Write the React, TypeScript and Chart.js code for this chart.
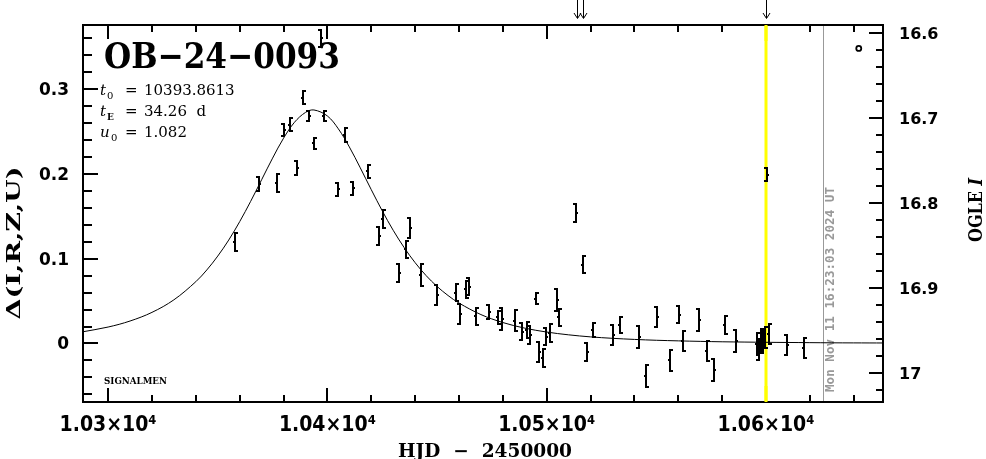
import React, { useEffect, useRef } from "react";
import { Chart, registerables } from "chart.js";

Chart.register(...registerables);

// ---------- data ----------
const titleText = "OB\u221224\u22120093";
const paramLines = [
  { sym: "t", sub: "0", value: "10393.8613" },
  { sym: "t", sub: "E", value: "34.26  d" },
  { sym: "u", sub: "0", value: "1.082" },
];
const surveyNote = "SIGNALMEN";
const dateStamp = "Mon Nov 11 16:23:03 2024 UT";

// observations: HJD-2450000, Δ mag, error
const obsT = [
  10357.9, 10368.8, 10377.0, 10380.2, 10383.0, 10386.0, 10389.0, 10391.7, 10394.0, 10397.1,
  10398.6, 10405.0, 10408.0, 10411.8, 10418.7, 10423.7, 10425.5, 10432.8, 10435.8, 10437.7,
  10442.7, 10449.8, 10458.6, 10460.5, 10463.2, 10464.6, 10467.8, 10473.7, 10477.7, 10479.6,
  10485.7, 10488.6, 10491.2, 10492.4, 10495.0, 10496.6, 10498.5, 10499.7, 10501.5, 10504.6,
  10505.8, 10513.4, 10516.4, 10518.5, 10521.3, 10530.4, 10533.4, 10542.2, 10545.3, 10550.4,
  10556.2, 10560.2, 10562.3, 10569.3, 10573.2, 10576.3, 10581.3, 10586.2, 10595.9, 10596.8,
  10597.7, 10598.6, 10599.5, 10600.3, 10601.2, 10609.4, 10617.3,
];
const obsDelta = [
  0.120, 0.188, 0.189, 0.252, 0.258, 0.207, 0.290, 0.268, 0.236, 0.360,
  0.268, 0.182, 0.246, 0.183, 0.203, 0.127, 0.147, 0.083, 0.111, 0.136,
  0.081, 0.057, 0.060, 0.035, 0.064, 0.067, 0.032, 0.037, 0.031, 0.029,
  0.027, 0.014, 0.016, 0.010, 0.053, -0.010, -0.017, 0.008, 0.012, 0.051,
  0.031, 0.154, 0.093, -0.010, 0.016, 0.010, 0.022, 0.008, -0.038, 0.031,
  -0.020, 0.034, 0.003, 0.028, -0.009, -0.031, 0.022, 0.003, -0.001, -0.007,
  0.002, 0.004, 0.007, 0.199, 0.011, -0.002, -0.005,
];
const obsErr = [
  0.012, 0.009, 0.012, 0.008, 0.009, 0.009, 0.009, 0.007, 0.008, 0.011,
  0.007, 0.009, 0.009, 0.009, 0.009, 0.012, 0.012, 0.012, 0.011, 0.013,
  0.014, 0.013, 0.011, 0.013, 0.011, 0.011, 0.011, 0.009, 0.009, 0.014,
  0.014, 0.011, 0.011, 0.012, 0.008, 0.013, 0.012, 0.011, 0.012, 0.014,
  0.011, 0.012, 0.011, 0.012, 0.009, 0.013, 0.011, 0.014, 0.014, 0.013,
  0.014, 0.011, 0.013, 0.014, 0.013, 0.014, 0.012, 0.014, 0.014, 0.014,
  0.014, 0.014, 0.014, 0.009, 0.013, 0.013, 0.013,
];

// model (PSPL) curve samples
const modelT = [
  10288, 10300, 10310, 10320, 10330, 10340, 10345, 10350, 10355, 10360,
  10365, 10370, 10375, 10380, 10385, 10390, 10393.86, 10400, 10405, 10410,
  10415, 10420, 10425, 10430, 10435, 10440, 10445, 10450, 10455, 10460,
  10470, 10480, 10490, 10500, 10510, 10520, 10530, 10540, 10550, 10560,
  10570, 10580, 10590, 10600, 10610, 10620, 10630, 10640, 10654,
];
const modelDelta = [
  0.0136, 0.0194, 0.0265, 0.0367, 0.0515, 0.0729, 0.0867, 0.1031, 0.1220, 0.1437,
  0.1676, 0.1931, 0.2186, 0.2421, 0.2609, 0.2725, 0.2754, 0.2683, 0.2531, 0.2318,
  0.2071, 0.1814, 0.1565, 0.1335, 0.1131, 0.0953, 0.0801, 0.0673, 0.0566, 0.0477,
  0.0341, 0.0247, 0.0181, 0.0135, 0.0102, 0.0078, 0.0061, 0.0048, 0.0038, 0.0031,
  0.0025, 0.0020, 0.0017, 0.0014, 0.0012, 0.0010, 0.0008, 0.0007, 0.0006,
];

const markerT = [10642.3];
const markerDelta = [0.348];

const arrowTimes = [10513.6, 10516.4, 10600.2];
const highlightT = 10600.0;
const nowT = 10626.0;

const xTickValues = [10300, 10400, 10500, 10600];
const xTickLabels = ["1.03\u00d710\u2074", "1.04\u00d710\u2074", "1.05\u00d710\u2074", "1.06\u00d710\u2074"];
const leftTickValues = [0, 0.1, 0.2, 0.3];
const leftTickLabels = ["0", "0.1", "0.2", "0.3"];
const rightTickValues = [16.6, 16.7, 16.8, 16.9, 17.0];
const rightTickLabels = ["16.6", "16.7", "16.8", "16.9", "17"];

const X_MIN = 10288.55, X_MAX = 10653.35;
const Y_MIN = -0.069, Y_MAX = 0.3756;
const M_MIN = 16.5906, M_MAX = 17.0341;

// ---------- helpers ----------
function fitText(ctx: any, text: string, x: number, y: number, width: number, align: string, rot = 0) {
  const m = ctx.measureText(text).width;
  const s = width / m;
  ctx.save();
  ctx.translate(x, y);
  if (rot) ctx.rotate(rot);
  ctx.scale(s, 1);
  ctx.textAlign = align;
  ctx.fillText(text, 0, 0);
  ctx.restore();
}

function drawHighlight(ctx: any, a: any, xs: any, top: number, bottom: number) {
  const hx = xs.getPixelForValue(highlightT);
  ctx.fillStyle = "#ffff00";
  ctx.fillRect(Math.round(hx) - 1.5, top, 3, bottom - top);
}

const overlay = {
  id: "overlay",
  beforeDatasetsDraw(chart: any) {
    const { ctx, chartArea: a, scales } = chart;
    const xs = scales.x;
    ctx.save();
    drawHighlight(ctx, a, xs, a.top, a.bottom);
    // current date line
    const gx = Math.round(xs.getPixelForValue(nowT)) + 0.5;
    ctx.strokeStyle = "#999999";
    ctx.lineWidth = 1;
    ctx.beginPath();
    ctx.moveTo(gx, a.top);
    ctx.lineTo(gx, a.bottom);
    ctx.stroke();
    ctx.fillStyle = "#999999";
    ctx.font = 'bold 12px "DejaVu Sans Mono"';
    ctx.textBaseline = "middle";
    fitText(ctx, dateStamp, gx + 7, 392, 205, "left", -Math.PI / 2);
    ctx.restore();
  },
  afterDatasetsDraw(chart: any) {
    const { ctx, chartArea: a, scales } = chart;
    const xs = scales.x, ys = scales.y, ms = scales.y2;
    ctx.save();
    // error bars
    ctx.save();
    ctx.beginPath();
    ctx.rect(a.left, a.top, a.right - a.left, a.bottom - a.top);
    ctx.clip();
    ctx.fillStyle = "#000";
    for (let i = 0; i < obsT.length; i++) {
      const px = Math.round(xs.getPixelForValue(obsT[i]));
      const pt = Math.round(ys.getPixelForValue(obsDelta[i] + obsErr[i]));
      const pb = Math.round(ys.getPixelForValue(obsDelta[i] - obsErr[i]));
      const pc = Math.round(ys.getPixelForValue(obsDelta[i]));
      ctx.fillRect(px - 1, pt, 2, pb - pt);
      const side = i % 2 === 0 ? 1 : -1;
      if (side > 0) {
        ctx.fillRect(px - 1, pt, 4, 2);
        ctx.fillRect(px - 1, pb - 2, 4, 2);
        ctx.fillRect(px - 2, pc - 1, 1, 2);
      } else {
        ctx.fillRect(px - 3, pt, 4, 2);
        ctx.fillRect(px - 3, pb - 2, 4, 2);
        ctx.fillRect(px + 1, pc - 1, 1, 2);
      }
    }
    ctx.restore();

    // frame
    ctx.strokeStyle = "#000";
    ctx.lineWidth = 2;
    ctx.strokeRect(a.left, a.top, a.right - a.left, a.bottom - a.top);

    // ticks
    ctx.fillStyle = "#000";
    for (let v = 10300; v <= X_MAX; v += 20) {
      const px = Math.round(xs.getPixelForValue(v));
      const major = v % 100 === 0;
      const len = major ? 14 : 7;
      ctx.fillRect(px - 1, a.bottom - len, 2, len);
      ctx.fillRect(px - 1, a.top, 2, len);
    }
    for (let k = -3; k <= 18; k++) {
      const v = k * 0.02;
      if (v < Y_MIN || v > Y_MAX) continue;
      const py = Math.round(ys.getPixelForValue(v));
      const len = k % 5 === 0 ? 15 : 9;
      ctx.fillRect(a.left, py - 1, len, 2);
    }
    for (let k = 0; k <= 21; k++) {
      const v = 16.6 + k * 0.02;
      if (v < M_MIN || v > M_MAX) continue;
      const py = Math.round(ms.getPixelForValue(v));
      const len = k % 5 === 0 ? 14 : 7;
      ctx.fillRect(a.right - len, py - 1, len, 2);
    }
    // highlight line covers the ticks it crosses
    drawHighlight(ctx, a, xs, a.top, a.top + 16);
    drawHighlight(ctx, a, xs, a.bottom - 16, a.bottom);

    // tick labels
    ctx.fillStyle = "#000";
    ctx.font = 'bold 17px "DejaVu Sans"';
    ctx.textBaseline = "middle";
    ctx.textAlign = "right";
    leftTickValues.forEach((v, i) => {
      ctx.fillText(leftTickLabels[i], 69, ys.getPixelForValue(v) + 1.5);
    });
    ctx.font = 'bold 16px "DejaVu Sans"';
    ctx.textAlign = "left";
    rightTickValues.forEach((v, i) => {
      ctx.fillText(rightTickLabels[i], 899, ms.getPixelForValue(v) + 1.5);
    });
    ctx.font = 'bold 21px "DejaVu Sans Condensed", "DejaVu Sans"';
    ctx.textBaseline = "alphabetic";
    xTickValues.forEach((v, i) => {
      fitText(ctx, xTickLabels[i], xs.getPixelForValue(v), 431, 97, "center");
    });

    // axis titles
    ctx.font = 'bold 18px "DejaVu Serif"';
    ctx.textBaseline = "alphabetic";
    fitText(ctx, "HJD  \u2212  2450000", 485, 457, 174, "center");
    ctx.textBaseline = "middle";
    fitText(ctx, "\u0394(I,R,Z,U)", 15, 243, 153, "center", -Math.PI / 2);
    // OGLE I
    {
      ctx.save();
      ctx.translate(977, 210);
      ctx.rotate(-Math.PI / 2);
      ctx.font = 'bold 19px "DejaVu Serif"';
      const w1 = ctx.measureText("OGLE ").width;
      ctx.font = 'bold italic 19px "DejaVu Serif"';
      const w2 = ctx.measureText("I").width;
      const s = 64 / (w1 + w2);
      ctx.scale(s, 1);
      ctx.textAlign = "left";
      ctx.textBaseline = "middle";
      const x0 = -(w1 + w2) / 2;
      ctx.font = 'bold 19px "DejaVu Serif"';
      ctx.fillText("OGLE ", x0, 0);
      ctx.font = 'bold italic 19px "DejaVu Serif"';
      ctx.fillText("I", x0 + w1, 0);
      ctx.restore();
    }

    // title
    ctx.font = 'bold 36px "DejaVu Serif"';
    ctx.textBaseline = "alphabetic";
    fitText(ctx, titleText, 104, 68, 236, "left");

    // parameters
    const baselines = [95, 116, 137];
    paramLines.forEach((p, i) => {
      const yb = baselines[i];
      ctx.textAlign = "left";
      ctx.font = 'italic 15px "DejaVu Serif"';
      ctx.fillText(p.sym, 100, yb);
      ctx.font = p.sub === "E" ? 'bold 9px "DejaVu Serif"' : '10px "DejaVu Serif"';
      ctx.fillText(p.sub, p.sym === "u" ? 111 : 107, yb + 4);
      ctx.font = '15px "DejaVu Serif"';
      ctx.fillText("=", 125, yb);
      ctx.fillText(p.value, 144, yb);
    });

    // signalmen note
    ctx.font = 'bold 9px "DejaVu Serif"';
    fitText(ctx, surveyNote, 104, 384, 63, "left");

    // arrows at top
    ctx.strokeStyle = "#000";
    ctx.lineWidth = 1;
    arrowTimes.forEach((t) => {
      const px = Math.round(xs.getPixelForValue(t)) + 0.5;
      ctx.beginPath();
      ctx.moveTo(px, 0);
      ctx.lineTo(px, 18);
      ctx.moveTo(px - 3.5, 13);
      ctx.lineTo(px, 18.5);
      ctx.lineTo(px + 3.5, 13);
      ctx.stroke();
    });
    ctx.restore();
  },
};

export default function App() {
  const ref = useRef<HTMLCanvasElement | null>(null);
  useEffect(() => {
    if (!ref.current) return;
    const chart = new Chart(ref.current, {
      type: "scatter",
      data: {
        datasets: [
          {
            type: "line",
            data: modelT.map((t, i) => ({ x: t, y: modelDelta[i] })),
            borderColor: "#000",
            borderWidth: 1,
            pointRadius: 0,
            tension: 0.35,
            fill: false,
          } as any,
          {
            type: "scatter",
            data: obsT.map((t, i) => ({ x: t, y: obsDelta[i] })),
            pointRadius: 0,
          } as any,
          {
            type: "scatter",
            data: markerT.map((t, i) => ({ x: t, y: markerDelta[i] })),
            pointStyle: "circle",
            pointRadius: 2.5,
            borderColor: "#000",
            borderWidth: 1.8,
            backgroundColor: "#fff",
          } as any,
        ],
      },
      options: {
        animation: false,
        responsive: false,
        events: [],
        layout: { padding: { left: 83, right: 103, top: 25, bottom: 57 } },
        plugins: { legend: { display: false }, tooltip: { enabled: false } },
        scales: {
          x: { type: "linear", min: X_MIN, max: X_MAX, display: false },
          y: { type: "linear", min: Y_MIN, max: Y_MAX, display: false },
          y2: { type: "linear", min: M_MIN, max: M_MAX, reverse: true, display: false },
        },
      } as any,
      plugins: [overlay as any],
    });
    return () => chart.destroy();
  }, []);
  return (
    <div style={{ position: "fixed", left: 0, top: 0, width: 986, height: 459, background: "#fff" }}>
      <canvas ref={ref} width={986} height={459} style={{ display: "block" }} />
    </div>
  );
}
